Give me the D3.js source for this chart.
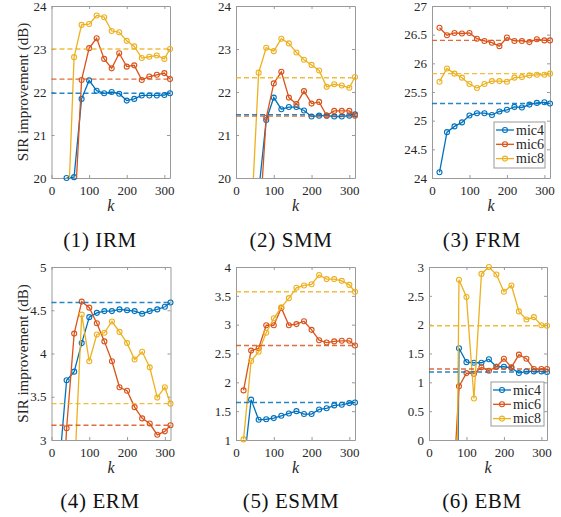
<!DOCTYPE html>
<html>
<head>
<meta charset="utf-8">
<script src="https://cdn.jsdelivr.net/npm/d3@7"></script>
<style>
  body { margin: 0; background: #fff; }
  svg { display: block; }
  svg text { font-family: "Liberation Serif", "DejaVu Serif", serif; }
</style>
</head>
<body>
<script>
var width = 561;
var height = 517;

// block sizes k, shared by every panel
var kValues = [20, 40, 60, 80, 100, 120, 140, 160, 180, 200, 220, 240, 260, 280, 300, 315];
var xTicks = [0, 100, 200, 300];
var micNames = ["mic4", "mic6", "mic8"];
var captions = ["(1) IRM", "(2) SMM", "(3) FRM", "(4) ERM", "(5) ESMM", "(6) EBM"];

// y ranges and ticks per panel
var yDomains = [[20, 24], [20, 24], [24, 27], [3, 5], [1, 4], [0, 3]];
var yTicks = [
  [20, 21, 22, 23, 24],
  [20, 21, 22, 23, 24],
  [24, 24.5, 25, 25.5, 26, 26.5, 27],
  [3, 3.5, 4, 4.5, 5],
  [1, 1.5, 2, 2.5, 3, 3.5, 4],
  [0, 0.5, 1, 1.5, 2, 2.5, 3]
];

// SIR improvement (dB), one array per method and mic (null = not computed)
var irmMic4 = [null, 20.0, 20.02, 21.84, 22.27, 22.03, 21.97, 22.0, 21.96, 21.8, 21.84, 21.92, 21.92, 21.92, 21.93, 21.97];
var irmMic6 = [null, null, 18.9, 22.28, 23.02, 23.25, 22.77, 22.55, 22.9, 22.59, 22.62, 22.28, 22.36, 22.4, 22.44, 22.3];
var irmMic8 = [null, 18.2, 22.81, 23.56, 23.58, 23.78, 23.74, 23.42, 23.39, 23.19, 23.06, 22.79, 22.82, 22.85, 22.77, 23.0];

var smmMic4 = [null, 17.0, 19.68, 21.35, 21.87, 21.6, 21.65, 21.65, 21.57, 21.43, 21.45, 21.45, 21.43, 21.43, 21.45, 21.48];
var smmMic6 = [null, null, 18.6, 21.4, 22.2, 22.47, 21.87, 21.72, 22.02, 21.73, 21.77, 21.45, 21.56, 21.56, 21.56, 21.45];
var smmMic8 = [null, 18.95, 22.45, 23.03, 22.95, 23.24, 23.13, 22.92, 22.75, 22.63, 22.5, 22.12, 22.18, 22.15, 22.1, 22.35];

var frmMic4 = [24.1, 24.8, 24.9, 24.97, 25.09, 25.13, 25.13, 25.1, 25.16, 25.19, 25.24, 25.23, 25.28, 25.31, 25.32, 25.3];
var frmMic6 = [26.62, 26.49, 26.53, 26.52, 26.53, 26.43, 26.39, 26.36, 26.3, 26.45, 26.39, 26.39, 26.37, 26.42, 26.4, 26.4];
var frmMic8 = [25.68, 25.91, 25.82, 25.75, 25.64, 25.57, 25.64, 25.69, 25.69, 25.68, 25.75, 25.76, 25.79, 25.8, 25.8, 25.82];

var ermMic4 = [2.66, 3.69, 3.79, 4.12, 4.42, 4.47, 4.49, 4.49, 4.51, 4.5, 4.49, 4.46, 4.49, 4.51, 4.54, 4.59];
var ermMic6 = [1.5, 3.135, 4.23, 4.6, 4.53, 4.35, 4.14, 3.91, 3.61, 3.57, 3.38, 3.25, 3.19, 3.06, 3.1, 3.17];
var ermMic8 = [null, null, 2.55, 4.45, 3.91, 4.22, 4.24, 4.37, 4.25, 4.12, 3.93, 4.02, 3.84, 3.49, 3.61, 3.42];

var esmmMic4 = [0.53, 1.7, 1.35, 1.36, 1.38, 1.42, 1.46, 1.5, 1.45, 1.45, 1.53, 1.55, 1.6, 1.61, 1.64, 1.65];
var esmmMic6 = [1.86, 2.55, 2.59, 2.99, 2.99, 3.29, 2.99, 3.01, 3.06, 2.91, 2.73, 2.69, 2.71, 2.72, 2.72, 2.64];
var esmmMic8 = [1.01, 2.37, 2.53, 2.86, 3.11, 3.3, 3.46, 3.64, 3.68, 3.7, 3.86, 3.79, 3.79, 3.76, 3.69, 3.57];

var ebmMic4 = [null, null, -14, 1.59, 1.35, 1.34, 1.34, 1.4, 1.27, 1.27, 1.25, 1.16, 1.19, 1.19, 1.19, 1.18];
var ebmMic6 = [null, null, -1.4, 0.93, 1.16, 1.15, 1.26, 1.2, 1.27, 1.41, 1.26, 1.48, 1.41, 1.23, 1.23, 1.23];
var ebmMic8 = [null, null, -11, 2.78, 2.48, 0.72, 2.88, 3.0, 2.87, 2.57, 2.68, 2.23, 2.09, 2.13, 1.99, 1.98];

// reference levels (dashed lines), mic4 / mic6 / mic8
var irmRef = [21.97, 22.3, 23.0];
var smmRef = [21.47, 21.44, 22.33];
var frmRef = [25.3, 26.4, 25.82];
var ermRef = [4.59, 3.17, 3.42];
var esmmRef = [1.65, 2.64, 3.57];
var ebmRef = [1.18, 1.23, 1.98];

var series = [
  [irmMic4, irmMic6, irmMic8],
  [smmMic4, smmMic6, smmMic8],
  [frmMic4, frmMic6, frmMic8],
  [ermMic4, ermMic6, ermMic8],
  [esmmMic4, esmmMic6, esmmMic8],
  [ebmMic4, ebmMic6, ebmMic8]
];
var refs = [irmRef, smmRef, frmRef, ermRef, esmmRef, ebmRef];

var colors = ["#0072BD", "#D95319", "#EDB120"];
var font = "\"Liberation Serif\", \"DejaVu Serif\", serif";
var axisGray = "#9a9a9a";
var textGray = "#262626";

// plot boxes in pixels
var layout = [
  {x0: 51.5, x1: 170, y0: 6, y1: 178, cx: 100, cy: 247, ylabel: true},
  {x0: 236, x1: 355, y0: 6, y1: 178, cx: 291, cy: 247},
  {x0: 432, x1: 550, y0: 6, y1: 178, cx: 482, cy: 247, legend: {x: 494, y: 122, w: 51, h: 46}},
  {x0: 51.5, x1: 170.5, y0: 267, y1: 440, cx: 100, cy: 508, ylabel: true},
  {x0: 236, x1: 355, y0: 267, y1: 440, cx: 291, cy: 508},
  {x0: 429, x1: 547, y0: 267, y1: 440, cx: 482, cy: 508, legend: {x: 491, y: 382, w: 53, h: 44}}
];

var svg = d3.select("body")
  .append("svg")
  .attr("width", width)
  .attr("height", height);
var defs = svg.append("defs");

function styleAxis(g) {
  g.attr("font-family", null).attr("font-size", null);
  g.selectAll(".domain").attr("stroke", axisGray);
  g.selectAll(".tick line").attr("stroke", axisGray);
  g.selectAll(".tick text")
    .attr("fill", textGray)
    .style("font-family", font)
    .style("font-size", "13px");
}

layout.forEach(function (L, p) {
  var x = d3.scaleLinear().domain([0, 315]).range([L.x0, L.x1]);
  var y = d3.scaleLinear().domain(yDomains[p]).range([L.y1, L.y0]);
  var g = svg.append("g");

  defs.append("clipPath")
    .attr("id", "clip" + p)
    .append("rect")
    .attr("x", L.x0)
    .attr("y", L.y0)
    .attr("width", L.x1 - L.x0)
    .attr("height", L.y1 - L.y0);

  // axes, ticks pointing inwards on all four sides
  g.append("g")
    .attr("transform", "translate(0," + L.y1 + ")")
    .call(d3.axisBottom(x).tickValues(xTicks).tickSizeInner(-3).tickSizeOuter(0).tickPadding(8))
    .call(styleAxis);
  g.append("g")
    .attr("transform", "translate(0," + L.y0 + ")")
    .call(d3.axisTop(x).tickValues(xTicks).tickSizeInner(-3).tickSizeOuter(0).tickFormat(""))
    .call(styleAxis);
  g.append("g")
    .attr("transform", "translate(" + L.x0 + ",0)")
    .call(d3.axisLeft(y).tickValues(yTicks[p]).tickSizeInner(-3).tickSizeOuter(0).tickPadding(5).tickFormat(d3.format("~g")))
    .call(styleAxis);
  g.append("g")
    .attr("transform", "translate(" + L.x1 + ",0)")
    .call(d3.axisRight(y).tickValues(yTicks[p]).tickSizeInner(-3).tickSizeOuter(0).tickFormat(""))
    .call(styleAxis);

  var line = d3.line()
    .defined(function (d) { return d[1] != null; })
    .x(function (d) { return x(d[0]); })
    .y(function (d) { return y(d[1]); });

  var lo = yDomains[p][0], hi = yDomains[p][1], tol = (hi - lo) * 0.01;

  series[p].forEach(function (vals, s) {
    var pts = kValues.map(function (k, i) { return [k, vals[i]]; });
    g.append("path")
      .datum(pts)
      .attr("clip-path", "url(#clip" + p + ")")
      .attr("fill", "none")
      .attr("stroke", colors[s])
      .attr("stroke-width", 1.3)
      .attr("d", line);
    g.selectAll("circle.s" + s)
      .data(pts.filter(function (d) { return d[1] != null && d[1] >= lo - tol && d[1] <= hi + tol; }))
      .enter()
      .append("circle")
      .attr("class", "s" + s)
      .attr("cx", function (d) { return x(d[0]); })
      .attr("cy", function (d) { return y(d[1]); })
      .attr("r", 2.5)
      .attr("fill", "none")
      .attr("stroke", colors[s])
      .attr("stroke-width", 1.1);
  });

  g.selectAll("line.ref")
    .data(refs[p])
    .enter()
    .append("line")
    .attr("class", "ref")
    .attr("x1", L.x0)
    .attr("x2", L.x1)
    .attr("y1", function (d) { return y(d); })
    .attr("y2", function (d) { return y(d); })
    .attr("stroke", function (d, i) { return colors[i]; })
    .attr("stroke-width", 1.4)
    .attr("stroke-opacity", 0.85)
    .attr("stroke-dasharray", "5,3");

  // k label
  g.append("text")
    .attr("x", (L.x0 + L.x1) / 2)
    .attr("y", L.y1 + 33)
    .attr("text-anchor", "middle")
    .style("font-style", "italic")
    .style("font-size", "16px")
    .attr("fill", textGray)
    .text("k");

  if (L.ylabel) {
    g.append("text")
      .attr("transform", "translate(28," + (L.y0 + L.y1) / 2 + ") rotate(-90)")
      .attr("text-anchor", "middle")
      .style("font-size", "15px")
      .attr("fill", textGray)
      .text("SIR improvement (dB)");
  }

  g.append("text")
    .attr("x", L.cx)
    .attr("y", L.cy)
    .attr("text-anchor", "middle")
    .style("font-size", "21px")
    .style("letter-spacing", "0.6px")
    .attr("fill", "#111")
    .text(captions[p]);

  if (L.legend) {
    var lg = g.append("g").attr("transform", "translate(" + L.legend.x + "," + L.legend.y + ")");
    lg.append("rect")
      .attr("width", L.legend.w)
      .attr("height", L.legend.h)
      .attr("fill", "#fff")
      .attr("stroke", axisGray)
      .attr("stroke-width", 1);
    var rows = lg.selectAll("g.entry")
      .data(micNames)
      .enter()
      .append("g")
      .attr("class", "entry")
      .attr("transform", function (d, i) { return "translate(0," + (8 + i * 14.3) + ")"; });
    rows.append("line")
      .attr("x1", 2)
      .attr("x2", 20)
      .attr("stroke", function (d, i) { return colors[i]; })
      .attr("stroke-width", 1.3);
    rows.append("circle")
      .attr("cx", 11)
      .attr("r", 2.5)
      .attr("fill", "none")
      .attr("stroke", function (d, i) { return colors[i]; })
      .attr("stroke-width", 1.1);
    rows.append("text")
      .attr("x", 22)
      .attr("dy", "0.33em")
      .style("font-size", "14px")
      .attr("fill", textGray)
      .text(function (d) { return d; });
  }
});
</script>
</body>
</html>
